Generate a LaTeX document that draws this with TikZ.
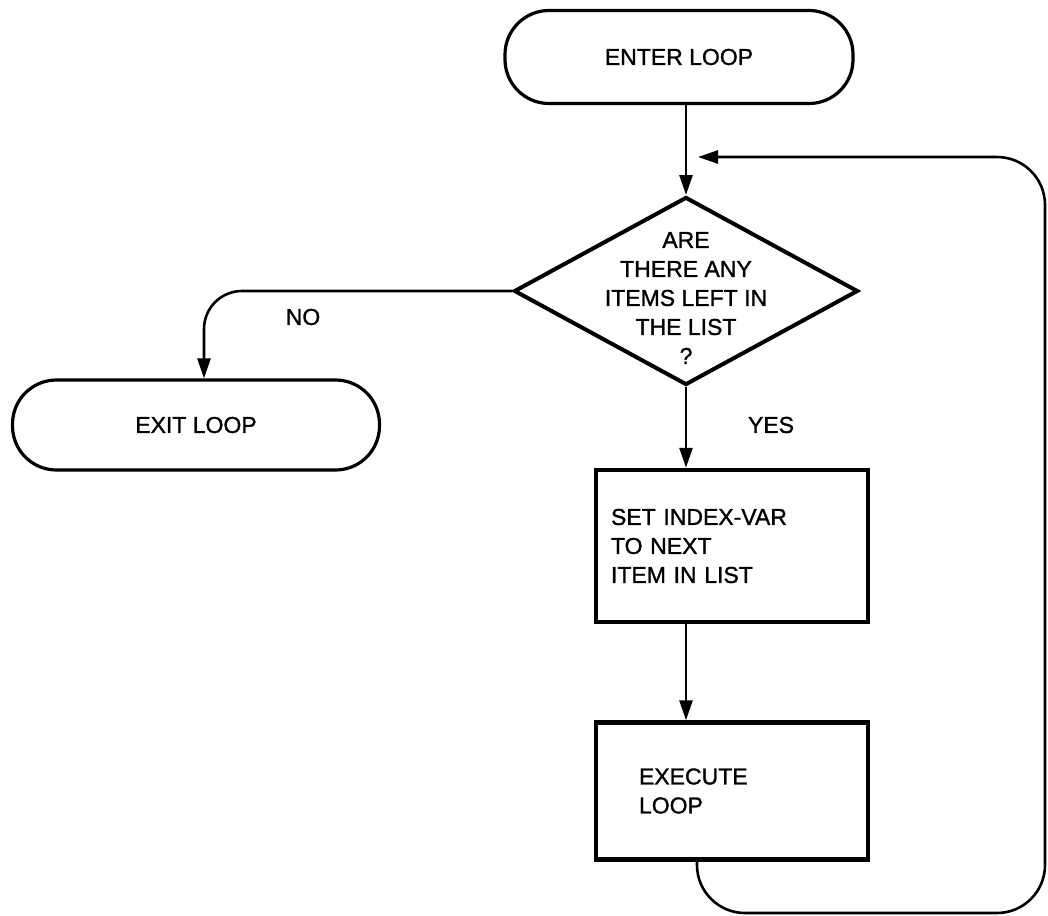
\documentclass[tikz,border=0pt]{standalone}
\usepackage{fontspec}
\setmainfont{Liberation Sans}
\newfontfamily\chartfont{Liberation Sans}[FakeBold=1.2]
\usetikzlibrary{shapes.geometric,arrows.meta}
\begin{document}
\begin{tikzpicture}[x=1pt,y=-1pt,
  every node/.style={font=\chartfont\fontsize{23}{29}\selectfont\addfontfeatures{FakeBold=1.2}},
  term/.style={draw,line width=3.2pt,rounded corners=44pt,inner sep=0pt},
  proc/.style={draw,line width=4.5pt,inner sep=0pt,align=left},
  dec/.style={draw,diamond,line width=4pt,inner sep=0pt},
  conn/.style={line width=2.6pt,-{Triangle[length=20pt,width=13pt]}},
  lab/.style={inner sep=0pt,align=center}]
\useasboundingbox (0,0) rectangle (1048,915);

\node[term,minimum width=348pt,minimum height=93pt] (enter) at (679,57) {ENTER LOOP};
\node[dec,minimum width=344pt,minimum height=188pt] (diam) at (686,291) {};
\node[lab] (qtext) at (686,298) {ARE\\THERE ANY\\ITEMS LEFT IN\\THE LIST\\?};
\node[term,minimum width=367pt,minimum height=90pt] (exit) at (196,425) {EXIT LOOP};
\node[proc,minimum width=272pt,minimum height=152pt,text width=242pt] (b1) at (732,546) {SET INDEX-VAR\\TO NEXT\\ITEM IN LIST};
\node[proc,minimum width=272pt,minimum height=137pt,text width=186pt] (b2) at (732,791) {EXECUTE\\LOOP};

\node[lab] (no) at (303,317) {NO};
\node[lab] (yes) at (771,425) {YES};

\coordinate (lb) at (1045,913);
\coordinate (join) at (698,157);

\draw[conn] (enter.south -| diam.north) -- (diam.north);
\draw[conn] (diam.south) -- (diam.south |- b1.north);
\draw[conn] (b1.south -| diam.south) -- (b2.north -| diam.south);
\draw[conn,rounded corners=38pt] (diam.west) -| ([xshift=8pt]exit.north);
\draw[conn,rounded corners=48pt] ([xshift=-35pt]b2.south) |- (lb) |- (join);
\end{tikzpicture}
\end{document}
